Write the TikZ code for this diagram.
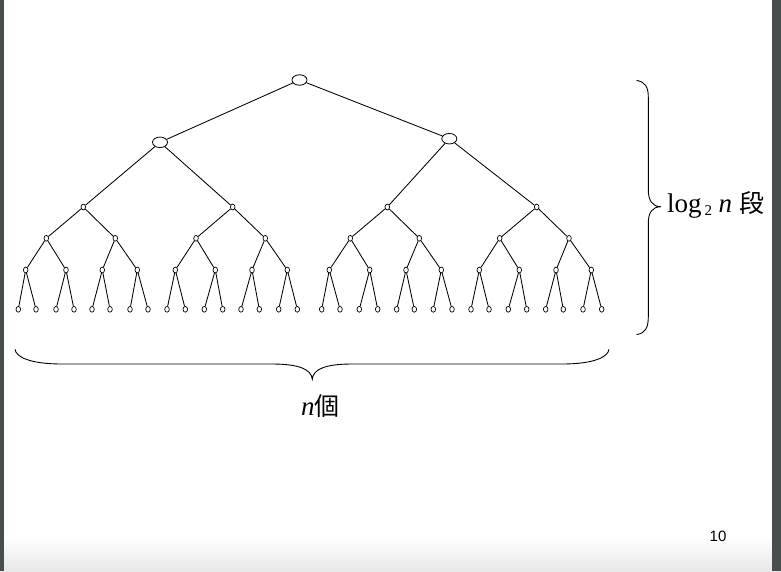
\documentclass[tikz,border=0pt]{standalone}
\usepackage{fontspec}
\setmainfont{Liberation Serif}
\newfontfamily\cjk{Noto Sans CJK JP}
\newfontfamily\arialf{Liberation Sans}
\usetikzlibrary{shapes.geometric}
\definecolor{bandgray}{RGB}{72,77,80}
\begin{document}
\begin{tikzpicture}[x=1pt,y=-1pt,
  bignode/.style={draw,ellipse,inner sep=0pt,minimum width=15pt,minimum height=10.5pt,line width=0.8pt},
  smallnode/.style={draw,ellipse,inner sep=0pt,minimum width=4.6pt,minimum height=5.8pt,line width=0.7pt},
  edge/.style={line width=0.85pt},
  bracepath/.style={line width=0.9pt}]
\useasboundingbox (0,0) rectangle (781,571);
% background
\fill[white] (0,0) rectangle (781,571);
\shade[top color=white,bottom color=black!9] (0,537) rectangle (781,571);
\fill[bandgray] (0,0) rectangle (3.5,571);
\fill[bandgray] (772,0) rectangle (781,571);
% tree
\node[bignode] (r) at (299.5,80) {};
\node[bignode] (a1) at (160,142.3) {};
\node[bignode] (a2) at (449.3,138.7) {};
\foreach \x [count=\i] in {83.3,232.7,387.3,536.7}
  \node[smallnode] (b\i) at (\x,207) {};
\foreach \x [count=\i] in {46.3,115.3,196,265.3,350.3,419.3,499.7,569}
  \node[smallnode] (c\i) at (\x,238.3) {};
\foreach \x [count=\i] in {25.7,66,102.3,137.3,175.3,215.3,252,287.3,329.3,369.7,406,441.3,479.3,519.3,556,591.3}
  \node[smallnode] (d\i) at (\x,270) {};
\foreach \x [count=\i] in {18.3,36,56,74,92,110,130,148,167,185.3,204.3,222.7,241,259.3,278.7,297.3,321.7,340,359.3,377.7,396.7,414.3,433.3,452,471,489,508.3,526.7,545.7,563.3,583,601.7}
  \node[smallnode] (e\i) at (\x,309.3) {};
\draw[edge] (r) -- (a1);
\draw[edge] (r) -- (a2);
\foreach \i [evaluate=\i as \p using int(2*\i-1), evaluate=\i as \q using int(2*\i)] in {1,2}
  {\draw[edge] (a\i) -- (b\p); \draw[edge] (a\i) -- (b\q);}
\foreach \i [evaluate=\i as \p using int(2*\i-1), evaluate=\i as \q using int(2*\i)] in {1,...,4}
  {\draw[edge] (b\i) -- (c\p); \draw[edge] (b\i) -- (c\q);}
\foreach \i [evaluate=\i as \p using int(2*\i-1), evaluate=\i as \q using int(2*\i)] in {1,...,8}
  {\draw[edge] (c\i) -- (d\p); \draw[edge] (c\i) -- (d\q);}
\foreach \i [evaluate=\i as \p using int(2*\i-1), evaluate=\i as \q using int(2*\i)] in {1,...,16}
  {\draw[edge] (d\i) -- (e\p); \draw[edge] (d\i) -- (e\q);}
% right brace
\draw[bracepath] (636.5,80.5) .. controls (645,81.5) and (648.3,87) .. (648.3,97)
  -- (648.3,190) .. controls (648.3,200) and (652,206.7) .. (661,206.7)
  .. controls (652,206.7) and (648.3,213) .. (648.3,223)
  -- (648.3,317) .. controls (648.3,328) and (645,333.5) .. (636.5,334.5);
% bottom brace
\draw[bracepath] (15,349.3) .. controls (16,357) and (30,364) .. (62,364)
  -- (272,364) .. controls (298,364) and (311.5,369) .. (312.3,379.3)
  .. controls (313,369) and (326,364) .. (352,364)
  -- (562,364) .. controls (594,364) and (608,357) .. (609,349.3);
% labels
\node[anchor=base west,inner sep=0pt] (lg) at (667,212.7)
  {\fontsize{27}{30}\selectfont log\hspace{3pt}\raisebox{-2.5pt}{\fontsize{15}{16}\selectfont 2}\hspace{6.5pt}\textit{n}\hspace{7pt}{\cjk\fontsize{25}{30}\selectfont 段}};
\node[anchor=base west,inner sep=0pt] (cnt) at (301,415)
  {\fontsize{27}{30}\selectfont\textit{n}{\cjk\fontsize{25}{30}\selectfont 個}};
\node[anchor=base west,inner sep=0pt] (pg) at (709.5,541)
  {\arialf\fontsize{15}{18}\selectfont 10};
\end{tikzpicture}
\end{document}
